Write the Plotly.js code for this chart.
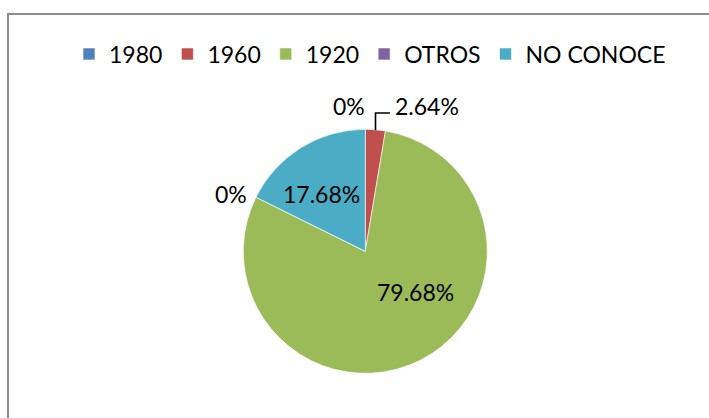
<!DOCTYPE html>
<html>
<head>
<meta charset="utf-8">
<script src="https://cdn.plot.ly/plotly-3.0.1.min.js"></script>
<style>
html,body{margin:0;padding:0;background:#fff;}
#chart{width:709px;height:418px;}
</style>
</head>
<body>
<div id="chart"></div>
<script>
var categories = ['1980', '1960', '1920', 'OTROS', 'NO CONOCE'];
var percentages = [0, 2.64, 79.68, 0, 17.68];
var sliceColors = ['#4F81BD', '#C0504D', '#9BBB59', '#8064A2', '#4BACC6'];

var W = 709, H = 418;
function fmt(v) { return v === 0 ? '0%' : v.toFixed(2) + '%'; }
function px(x) { return x / W; }
function py(y) { return 1 - y / H; }

// label anchor points (pixel) per category
var labelPos = [[349, 106], [427, 106], [415, 292], [231, 194], [321, 194]];

var annotations = categories.map(function (c, i) {
  return {
    xref: 'paper', yref: 'paper',
    x: px(labelPos[i][0]), y: py(labelPos[i][1]),
    xanchor: 'center', yanchor: 'middle',
    text: fmt(percentages[i]), showarrow: false,
    font: {family: 'Lato, sans-serif', size: 23, color: '#000'}
  };
});

var trace = {
  type: 'pie',
  labels: categories,
  values: percentages,
  sort: false,
  direction: 'clockwise',
  rotation: 0,
  marker: {colors: sliceColors, line: {color: '#ffffff', width: 0.6}},
  textinfo: 'none',
  textposition: 'none',
  hoverinfo: 'label+percent',
  domain: {x: [px(243.3), px(487.3)], y: [py(373.3), py(129.3)]},
  automargin: false,
  showlegend: true
};

var layout = {
  width: W, height: H,
  margin: {l: 0, r: 0, t: 0, b: 0},
  paper_bgcolor: '#fff',
  font: {family: 'Lato, sans-serif', size: 23, color: '#000'},
  showlegend: true,
  legend: {
    orientation: 'h',
    x: px(370), xanchor: 'center',
    y: py(54), yanchor: 'middle',
    font: {family: 'Lato, sans-serif', size: 23, color: '#000'},
    traceorder: 'normal',
    bgcolor: 'rgba(0,0,0,0)'
  },
  annotations: annotations,
  shapes: [
    {type: 'rect', xref: 'paper', yref: 'paper',
     x0: px(8), x1: 1.05, y0: -0.05, y1: py(14),
     line: {color: '#8c8c8c', width: 2}, fillcolor: 'rgba(0,0,0,0)'},
    {type: 'path', xref: 'paper', yref: 'paper',
     path: 'M ' + px(375.5) + ' ' + py(130) + ' L ' + px(375.5) + ' ' + py(113) + ' L ' + px(390) + ' ' + py(113),
     line: {color: '#000', width: 1.6}}
  ]
};

Plotly.newPlot('chart', [trace], layout, {displayModeBar: false, staticPlot: true});
</script>
</body>
</html>
